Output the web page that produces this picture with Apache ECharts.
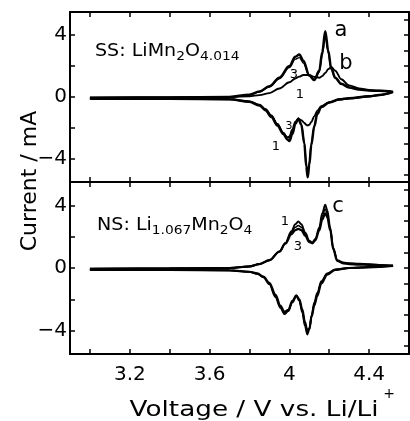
<!DOCTYPE html>
<html>
<head>
<meta charset="utf-8">
<script src="https://cdn.jsdelivr.net/npm/echarts@6/dist/echarts.min.js"></script>
<style>
  html, body { margin: 0; padding: 0; background: #fff; }
  #chart { width: 410px; height: 421px; }
</style>
</head>
<body>
<div id="chart"></div>
<script>
// 电压刻度与标签
const xTicks = [3.0, 3.2, 3.4, 3.6, 3.8, 4.0, 4.2, 4.4];
const xLabels = [3.2, 3.6, 4.0, 4.4];
const yTicksLeft = [-4, -2, 0, 2, 4];
const yTicksRight = [-5, -4, -3, -2, -1, 0, 1, 2, 3, 4, 5];
const yLabels = [-4, 0, 4];

// SS: LiMn2O4.014 — anodic sweep
const ssAnodicV = [3.0, 3.4, 3.7, 3.8, 3.85, 3.9, 3.95, 4.0, 4.03, 4.05, 4.07, 4.1, 4.125, 4.15, 4.165, 4.18, 4.195, 4.21, 4.23, 4.26, 4.3, 4.35, 4.4, 4.45, 4.52];
const ssAnodic1 = [-0.05, -0.03, 0.0, 0.05, 0.12, 0.25, 0.55, 0.95, 1.2, 1.32, 1.42, 1.42, 1.3, 1.25, 1.35, 1.55, 1.8, 1.95, 1.7, 1.15, 0.75, 0.55, 0.45, 0.4, 0.33];
const ssAnodic2 = [-0.05, -0.03, 0.0, 0.14, 0.32, 0.65, 1.18, 1.9, 2.45, 2.55, 2.2, 1.35, 1.08, 1.6, 2.7, 3.95, 2.85, 1.8, 1.25, 0.85, 0.62, 0.48, 0.42, 0.4, 0.33];
const ssAnodic3 = [-0.05, -0.03, 0.0, 0.15, 0.35, 0.7, 1.25, 2.0, 2.6, 2.75, 2.35, 1.4, 1.1, 1.7, 2.9, 4.25, 3.0, 1.85, 1.25, 0.85, 0.62, 0.48, 0.42, 0.4, 0.33];
// SS — cathodic sweep
const ssCathodicV = [3.0, 3.4, 3.7, 3.8, 3.85, 3.88, 3.91, 3.94, 3.97, 3.99, 4.0, 4.015, 4.03, 4.045, 4.06, 4.075, 4.085, 4.092, 4.1, 4.11, 4.125, 4.14, 4.16, 4.2, 4.25, 4.3, 4.4, 4.45, 4.52];
const ssCathodic1 = [-0.12, -0.12, -0.15, -0.28, -0.5, -0.78, -1.2, -1.75, -2.35, -2.62, -2.55, -2.1, -1.6, -1.42, -1.5, -1.68, -1.8, -1.84, -1.8, -1.62, -1.25, -0.88, -0.6, -0.35, -0.18, -0.1, 0.03, 0.12, 0.33];
const ssCathodic2 = [-0.12, -0.12, -0.15, -0.3, -0.52, -0.8, -1.22, -1.75, -2.3, -2.6, -2.65, -2.25, -1.65, -1.35, -1.75, -2.9, -4.3, -4.95, -4.2, -3.0, -1.85, -1.05, -0.62, -0.34, -0.15, -0.08, 0.05, 0.13, 0.33];
const ssCathodic3 = [-0.12, -0.12, -0.15, -0.3, -0.55, -0.85, -1.3, -1.85, -2.4, -2.75, -2.85, -2.4, -1.75, -1.4, -1.8, -3.0, -4.5, -5.2, -4.4, -3.1, -1.9, -1.1, -0.65, -0.35, -0.15, -0.08, 0.05, 0.13, 0.33];

// NS: Li1.067Mn2O4 — anodic sweep
const nsAnodicV = [3.0, 3.4, 3.7, 3.8, 3.85, 3.9, 3.95, 3.98, 4.01, 4.03, 4.045, 4.06, 4.08, 4.1, 4.115, 4.13, 4.15, 4.165, 4.18, 4.19, 4.205, 4.22, 4.24, 4.27, 4.3, 4.35, 4.4, 4.45, 4.52];
const nsAnodic1 = [-0.05, -0.03, 0.0, 0.1, 0.25, 0.5, 1.05, 1.6, 2.35, 2.8, 2.97, 2.8, 2.25, 1.75, 1.63, 1.85, 2.6, 3.5, 4.05, 3.7, 2.6, 1.3, 0.5, 0.35, 0.3, 0.27, 0.24, 0.2, 0.14];
const nsAnodic2 = [-0.05, -0.03, 0.0, 0.1, 0.25, 0.5, 1.05, 1.58, 2.25, 2.6, 2.72, 2.6, 2.15, 1.7, 1.6, 1.8, 2.5, 3.3, 3.78, 3.45, 2.5, 1.25, 0.48, 0.33, 0.28, 0.25, 0.22, 0.18, 0.14];
const nsAnodic3 = [-0.05, -0.03, 0.0, 0.1, 0.25, 0.5, 1.05, 1.55, 2.15, 2.42, 2.5, 2.42, 2.05, 1.66, 1.58, 1.76, 2.4, 3.1, 3.5, 3.25, 2.4, 1.2, 0.45, 0.3, 0.25, 0.22, 0.2, 0.17, 0.14];
// NS — cathodic sweep
const nsCathodicV = [3.0, 3.4, 3.7, 3.8, 3.84, 3.87, 3.9, 3.93, 3.955, 3.975, 3.995, 4.015, 4.035, 4.05, 4.065, 4.078, 4.09, 4.1, 4.112, 4.125, 4.14, 4.16, 4.19, 4.23, 4.3, 4.4, 4.52];
const nsCathodic1 = [-0.12, -0.12, -0.15, -0.25, -0.38, -0.6, -1.05, -1.85, -2.55, -2.95, -2.75, -2.2, -1.8, -2.1, -2.85, -3.7, -4.25, -3.95, -3.0, -2.2, -1.6, -0.85, -0.35, -0.1, 0.0, 0.05, 0.14];
const nsCathodic2 = [-0.12, -0.12, -0.15, -0.25, -0.37, -0.58, -1.0, -1.78, -2.48, -2.88, -2.72, -2.15, -1.78, -2.05, -2.75, -3.55, -4.1, -3.9, -3.05, -2.3, -1.7, -0.92, -0.38, -0.11, 0.0, 0.05, 0.14];
const nsCathodic3 = [-0.12, -0.12, -0.15, -0.24, -0.35, -0.55, -0.95, -1.7, -2.4, -2.8, -2.68, -2.1, -1.75, -2.0, -2.65, -3.45, -4.0, -3.88, -3.1, -2.4, -1.8, -1.0, -0.42, -0.12, 0.0, 0.05, 0.14];

const FONT = 'DejaVu Sans';
const myChart = echarts.init(document.getElementById('chart'));

function pairs(v, i) {
    return v.map((x, k) => [x, i[k]]);
}

function curve(v, i, panel, width) {
    return {
        type: 'line',
        xAxisIndex: panel * 2,
        yAxisIndex: panel * 2,
        data: pairs(v, i),
        showSymbol: false,
        smooth: 0.35,
        smoothMonotone: 'x',
        silent: true,
        lineStyle: { color: '#000', width: width }
    };
}

function xAxisOf(grid, pos, labels) {
    return {
        type: 'value', gridIndex: grid, position: pos,
        min: 2.9, max: 4.6,
        splitLine: { show: false },
        axisLine: { onZero: false, lineStyle: { color: '#000', width: 2 } },
        axisTick: { inside: true, length: 5, customValues: xTicks, lineStyle: { color: '#000', width: 1.5 } },
        axisLabel: labels ? {
            customValues: xLabels, margin: 11, color: '#000', fontSize: 20, fontFamily: FONT,
            formatter: (v) => String(v)
        } : { show: false }
    };
}

function yAxisOf(grid, pos) {
    const left = pos === 'left';
    return {
        type: 'value', gridIndex: grid, position: pos,
        min: -5.5, max: 5.5,
        splitLine: { show: false },
        axisLine: { onZero: false, lineStyle: { color: '#000', width: 2 } },
        axisTick: { inside: true, length: 5, customValues: left ? yTicksLeft : yTicksRight, lineStyle: { color: '#000', width: 1.5 } },
        axisLabel: left ? {
            customValues: yLabels, margin: 3, color: '#000', fontSize: 20, fontFamily: FONT,
            formatter: (v) => String(v).replace('-', '\u2212')
        } : { show: false }
    };
}

const richFormula = {
    m: { fontSize: 18, fontFamily: FONT, fill: '#000', verticalAlign: 'top' },
    s: { fontSize: 13, fontFamily: FONT, fill: '#000', verticalAlign: 'top', padding: [8, 0, 0, 0] }
};

function label(text, x, y, size) {
    return {
        type: 'text', x: x, y: y, silent: true,
        style: { text: text, fontSize: size, fontFamily: FONT, fill: '#000', align: 'center', verticalAlign: 'middle' }
    };
}

let option = {
    animation: false,
    backgroundColor: '#fff',
    grid: [
        { left: 70, top: 12, width: 339, height: 170 },
        { left: 70, top: 182, width: 339, height: 172 }
    ],
    xAxis: [
        xAxisOf(0, 'bottom', false), xAxisOf(0, 'top', false),
        xAxisOf(1, 'bottom', true), xAxisOf(1, 'top', false)
    ],
    yAxis: [
        yAxisOf(0, 'left'), yAxisOf(0, 'right'),
        yAxisOf(1, 'left'), yAxisOf(1, 'right')
    ],
    series: [
        curve(ssAnodicV, ssAnodic1, 0, 1.9),
        curve(ssAnodicV, ssAnodic2, 0, 1.4),
        curve(ssAnodicV, ssAnodic3, 0, 2.5),
        curve(ssCathodicV, ssCathodic1, 0, 1.9),
        curve(ssCathodicV, ssCathodic2, 0, 1.4),
        curve(ssCathodicV, ssCathodic3, 0, 2.5),
        curve(nsAnodicV, nsAnodic1, 1, 1.9),
        curve(nsAnodicV, nsAnodic2, 1, 1.5),
        curve(nsAnodicV, nsAnodic3, 1, 2.2),
        curve(nsCathodicV, nsCathodic1, 1, 1.9),
        curve(nsCathodicV, nsCathodic2, 1, 1.5),
        curve(nsCathodicV, nsCathodic3, 1, 2.2)
    ],
    graphic: [
        {
            type: 'text', x: 95, y: 42, scaleX: 1.06, silent: true,
            style: { text: '{m|SS: LiMn}{s|2}{m|O}{s|4.014}', rich: richFormula }
        },
        {
            type: 'text', x: 97, y: 216, scaleX: 1.06, silent: true,
            style: { text: '{m|NS: Li}{s|1.067}{m|Mn}{s|2}{m|O}{s|4}', rich: richFormula }
        },
        label('a', 341, 31, 21),
        label('b', 346, 64, 21),
        label('c', 338, 207, 21),
        label('3', 294, 75, 13),
        label('1', 300, 95, 13),
        label('3', 289, 126, 11),
        label('1', 276, 147, 13),
        label('1', 285, 222, 13),
        label('3', 298, 247, 13),
        {
            type: 'text', x: 30, y: 181, rotation: Math.PI / 2, silent: true,
            style: { text: 'Current / mA', fontSize: 22, fontFamily: FONT, fill: '#000', align: 'center', verticalAlign: 'middle' }
        },
        {
            type: 'text', x: 254, y: 411, scaleX: 1.25, silent: true,
            style: { text: 'Voltage / V vs. Li/Li', fontSize: 21, fontFamily: FONT, fill: '#000', align: 'center', verticalAlign: 'middle' }
        },
        label('+', 389, 394, 14)
    ]
};

option && myChart.setOption(option);
</script>
</body>
</html>
